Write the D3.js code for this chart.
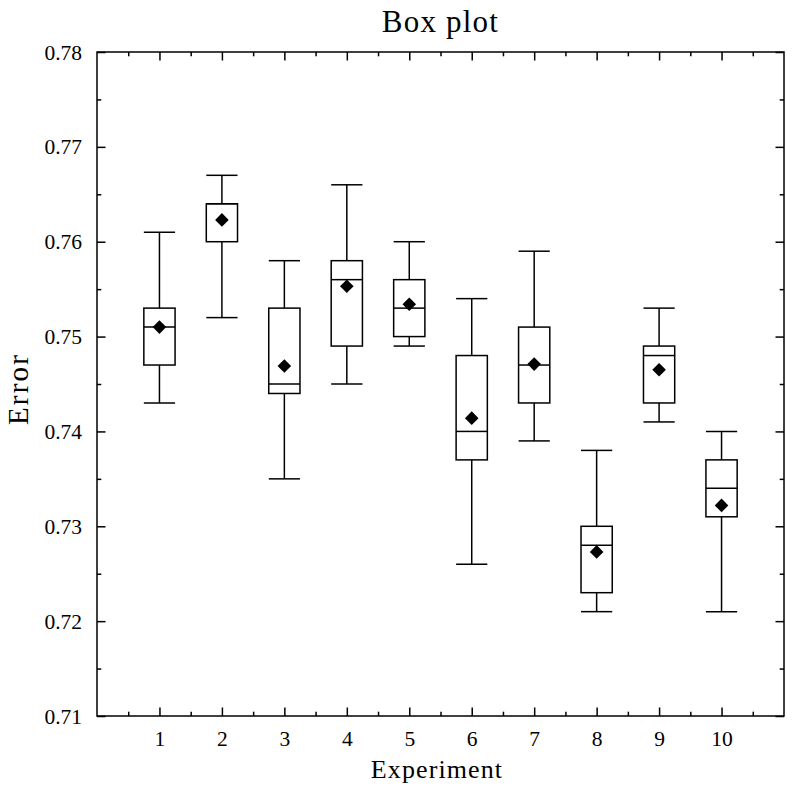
<!DOCTYPE html>
<html>
<head>
<meta charset="utf-8">
<script src="https://cdn.jsdelivr.net/npm/d3@7"></script>
<style>
  html, body { margin: 0; padding: 0; background: #fff; }
  svg { display: block; }
  text { font-family: "Liberation Serif", "Times New Roman", serif; fill: #000; }
</style>
</head>
<body>
<script>
// ---- Data ----
const experiments = [1, 2, 3, 4, 5, 6, 7, 8, 9, 10];
const whiskerHigh = [0.761, 0.767, 0.758, 0.766, 0.760, 0.754, 0.759, 0.738, 0.753, 0.740];
const q3Values    = [0.753, 0.764, 0.753, 0.758, 0.756, 0.748, 0.751, 0.730, 0.749, 0.737];
const medians     = [0.751, 0.764, 0.745, 0.756, 0.753, 0.740, 0.747, 0.728, 0.748, 0.734];
const q1Values    = [0.747, 0.760, 0.744, 0.749, 0.750, 0.737, 0.743, 0.723, 0.743, 0.731];
const whiskerLow  = [0.743, 0.752, 0.735, 0.745, 0.749, 0.726, 0.739, 0.721, 0.741, 0.721];
const means       = [0.7510, 0.7623, 0.7469, 0.7553, 0.7534, 0.7414, 0.7471, 0.7273, 0.7465, 0.7322];
const yTickValues = [0.71, 0.72, 0.73, 0.74, 0.75, 0.76, 0.77, 0.78];
const yTickLabels = ["0.71", "0.72", "0.73", "0.74", "0.75", "0.76", "0.77", "0.78"];
const yMinorTicks = [0.715, 0.725, 0.735, 0.745, 0.755, 0.765, 0.775];
const xMinorTicks = [0.5, 1.5, 2.5, 3.5, 4.5, 5.5, 6.5, 7.5, 8.5, 9.5, 10.5];
const titleText = "Box plot";
const xLabelText = "Experiment";
const yLabelText = "Error";

(function () {
// ---- Layout ----
const W = 793, H = 793;
const pL = 97, pR = 784, pT = 52, pB = 716;
const boxWidth = 0.5;
const lw = 1.5;

const svg = d3.select("body").append("svg").attr("width", W).attr("height", H);

const x = d3.scaleLinear().domain([0, 11]).range([pL, pR]);
const y = d3.scaleLinear().domain([0.71, 0.78]).range([pB, pT]);

const data = experiments.map((e, i) => ({
  e, hi: whiskerHigh[i], q3: q3Values[i], med: medians[i], q1: q1Values[i], lo: whiskerLow[i], mean: means[i]
}));

// ---- Axes (inward ticks on all four sides) ----
const majorLen = 8.5, minorLen = 4.3;
function styleAxis(g) {
  g.select(".domain").remove();
  g.selectAll(".tick line").attr("stroke", "#000").attr("stroke-width", lw);
}

// bottom
svg.append("g").attr("transform", `translate(0,${pB})`)
  .call(d3.axisBottom(x).tickValues(experiments).tickSize(-majorLen).tickPadding(0).tickFormat(d3.format("d")))
  .call(styleAxis)
  .call(g => g.selectAll(".tick text").attr("y", 29.5).attr("dy", null)
     .style("font-size", "21.5px").style("font-family", "'Liberation Serif', serif"));
svg.append("g").attr("transform", `translate(0,${pB})`)
  .call(d3.axisBottom(x).tickValues(xMinorTicks).tickSize(-minorLen).tickFormat(""))
  .call(styleAxis);
// top
svg.append("g").attr("transform", `translate(0,${pT})`)
  .call(d3.axisTop(x).tickValues(experiments).tickSize(-majorLen).tickFormat(""))
  .call(styleAxis);
svg.append("g").attr("transform", `translate(0,${pT})`)
  .call(d3.axisTop(x).tickValues(xMinorTicks).tickSize(-minorLen).tickFormat(""))
  .call(styleAxis);
// left
svg.append("g").attr("transform", `translate(${pL},0)`)
  .call(d3.axisLeft(y).tickValues(yTickValues).tickSize(-majorLen).tickPadding(15)
        .tickFormat((d, i) => yTickLabels[i]))
  .call(styleAxis)
  .call(g => g.selectAll(".tick text").attr("x", -15).attr("dy", "0.33em")
     .style("font-size", "21.5px").style("font-family", "'Liberation Serif', serif"));
svg.append("g").attr("transform", `translate(${pL},0)`)
  .call(d3.axisLeft(y).tickValues(yMinorTicks).tickSize(-minorLen).tickFormat(""))
  .call(styleAxis);
// right
svg.append("g").attr("transform", `translate(${pR},0)`)
  .call(d3.axisRight(y).tickValues(yTickValues).tickSize(-majorLen).tickFormat(""))
  .call(styleAxis);
svg.append("g").attr("transform", `translate(${pR},0)`)
  .call(d3.axisRight(y).tickValues(yMinorTicks).tickSize(-minorLen).tickFormat(""))
  .call(styleAxis);

// frame
svg.append("rect")
  .attr("x", pL).attr("y", pT)
  .attr("width", pR - pL).attr("height", pB - pT)
  .attr("fill", "none").attr("stroke", "#000").attr("stroke-width", lw);

// ---- Boxes ----
const bw = x(boxWidth) - x(0);
const groups = svg.append("g").selectAll("g.box").data(data).join("g").attr("class", "box");

// whiskers
groups.append("line")
  .attr("x1", d => x(d.e)).attr("x2", d => x(d.e))
  .attr("y1", d => y(d.q3)).attr("y2", d => y(d.hi))
  .attr("stroke", "#000").attr("stroke-width", lw);
groups.append("line")
  .attr("x1", d => x(d.e)).attr("x2", d => x(d.e))
  .attr("y1", d => y(d.q1)).attr("y2", d => y(d.lo))
  .attr("stroke", "#000").attr("stroke-width", lw);
// caps
groups.append("line")
  .attr("x1", d => x(d.e) - bw / 2).attr("x2", d => x(d.e) + bw / 2)
  .attr("y1", d => y(d.hi)).attr("y2", d => y(d.hi))
  .attr("stroke", "#000").attr("stroke-width", lw);
groups.append("line")
  .attr("x1", d => x(d.e) - bw / 2).attr("x2", d => x(d.e) + bw / 2)
  .attr("y1", d => y(d.lo)).attr("y2", d => y(d.lo))
  .attr("stroke", "#000").attr("stroke-width", lw);
// box
groups.append("rect")
  .attr("x", d => x(d.e) - bw / 2).attr("width", bw)
  .attr("y", d => y(d.q3)).attr("height", d => y(d.q1) - y(d.q3))
  .attr("fill", "none").attr("stroke", "#000").attr("stroke-width", lw);
// median
groups.append("line")
  .attr("x1", d => x(d.e) - bw / 2).attr("x2", d => x(d.e) + bw / 2)
  .attr("y1", d => y(d.med)).attr("y2", d => y(d.med))
  .attr("stroke", "#000").attr("stroke-width", lw);
// mean diamond
const dSize = 6.8;
groups.append("path")
  .attr("transform", d => `translate(${x(d.e)},${y(d.mean)})`)
  .attr("d", `M0,${-dSize}L${dSize},0L0,${dSize}L${-dSize},0Z`)
  .attr("fill", "#000");

// ---- Titles ----
svg.append("text")
  .attr("x", (pL + pR) / 2).attr("y", 31.5)
  .attr("text-anchor", "middle")
  .style("font-size", "31px").style("letter-spacing", "1.2px")
  .text(titleText);
svg.append("text")
  .attr("x", 437).attr("y", 778)
  .attr("text-anchor", "middle")
  .style("font-size", "26px").style("letter-spacing", "1.1px")
  .text(xLabelText);
svg.append("text")
  .attr("transform", `translate(27.5,389) rotate(-90)`)
  .attr("text-anchor", "middle")
  .style("font-size", "29px").style("letter-spacing", "2.2px")
  .text(yLabelText);
})();
</script>
</body>
</html>
